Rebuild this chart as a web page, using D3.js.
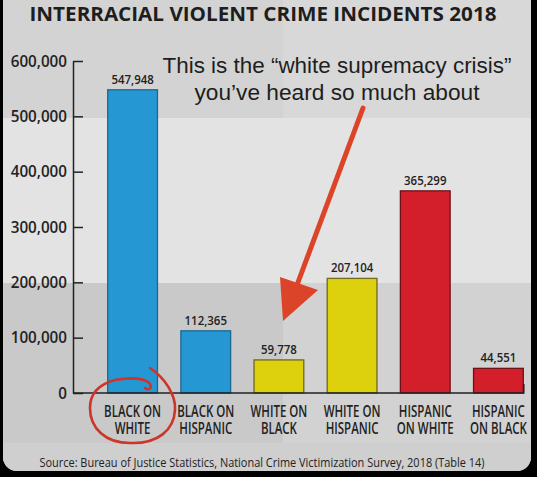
<!DOCTYPE html>
<html>
<head>
<meta charset="utf-8">
<script src="https://cdn.jsdelivr.net/npm/d3@7"></script>
<style>
  html, body { margin: 0; padding: 0; background: #000; }
  svg { display: block; }
</style>
</head>
<body>
<svg id="chart" width="537" height="477"></svg>
<script>
// ---- data ----
const categories = [
  ["BLACK ON", "WHITE"],
  ["BLACK ON", "HISPANIC"],
  ["WHITE ON", "BLACK"],
  ["WHITE ON", "HISPANIC"],
  ["HISPANIC", "ON WHITE"],
  ["HISPANIC", "ON BLACK"]
];
const values = [547948, 112365, 59778, 207104, 365299, 44551];
const valueLabels = ["547,948", "112,365", "59,778", "207,104", "365,299", "44,551"];
const barColorGroup = ["blue", "blue", "yellow", "yellow", "red", "red"];
const yTicks = [0, 100000, 200000, 300000, 400000, 500000, 600000];
const title = "INTERRACIAL VIOLENT CRIME INCIDENTS 2018";
const annotation = ["This is the \u201Cwhite supremacy crisis\u201D", "you\u2019ve heard so much about"];
const source = "Source: Bureau of Justice Statistics, National Crime Victimization Survey, 2018 (Table 14)";

// ---- styles ----
const fills = { blue: "#2598d4", yellow: "#dcd10c", red: "#d21f2b" };
const strokes = { blue: "#1b6791", yellow: "#6e6820", red: "#6e1218" };

const svg = d3.select("#chart");

// paper background with folds
const defs = svg.append("defs");
const clip = defs.append("clipPath").attr("id", "paper");
clip.append("rect").attr("x", 3).attr("y", -14).attr("width", 528).attr("height", 485).attr("rx", 14);
const paper = svg.append("g").attr("clip-path", "url(#paper)");
paper.append("rect").attr("x", 0).attr("y", 0).attr("width", 537).attr("height", 477).attr("fill", "#dedede");
paper.append("rect").attr("x", 0).attr("y", 0).attr("width", 537).attr("height", 118).attr("fill", "#d3d3d3");
paper.append("rect").attr("x", 283).attr("y", 0).attr("width", 254).attr("height", 118).attr("fill", "#d8d8d8");
paper.append("rect").attr("x", 0).attr("y", 118).attr("width", 537).attr("height", 165).attr("fill", "#e3e3e3");
paper.append("rect").attr("x", 0).attr("y", 283).attr("width", 537).attr("height", 160).attr("fill", "#c9c9c9");
paper.append("rect").attr("x", 283).attr("y", 283).attr("width", 254).attr("height", 160).attr("fill", "#d2d2d2");
paper.append("rect").attr("x", 0).attr("y", 443).attr("width", 537).attr("height", 40).attr("fill", "#cfcfcf");

// ---- scales ----
const y = d3.scaleLinear().domain([0, 600000]).range([393, 61]);
const x = d3.scaleBand().domain(d3.range(categories.length))
  .range([96, 535]).paddingInner(0.32).paddingOuter(0.16);
const axisX = 73;

const fontMain = "'Open Sans', 'DejaVu Sans', sans-serif";

// condense helper
function condense(sel, factor) {
  sel.each(function () {
    const len = this.getComputedTextLength();
    d3.select(this).attr("textLength", len * factor).attr("lengthAdjust", "spacingAndGlyphs");
  });
}

// title
svg.append("text")
  .attr("x", 263).attr("y", 21)
  .attr("text-anchor", "middle")
  .attr("font-family", fontMain).attr("font-weight", 700).attr("font-size", 20)
  .attr("fill", "#1e1e1e")
  .attr("textLength", 467).attr("lengthAdjust", "spacingAndGlyphs")
  .text(title);

// bars
const bars = svg.append("g");
bars.selectAll("rect").data(values).join("rect")
  .attr("x", (d, i) => x(i))
  .attr("width", x.bandwidth())
  .attr("y", d => y(d))
  .attr("height", d => y(0) - y(d))
  .attr("fill", (d, i) => fills[barColorGroup[i]])
  .attr("stroke", (d, i) => strokes[barColorGroup[i]])
  .attr("stroke-width", 1.3);

// value labels
const vl = svg.append("g").selectAll("text").data(values).join("text")
  .attr("x", (d, i) => x(i) + x.bandwidth() / 2)
  .attr("y", d => y(d) - 6)
  .attr("text-anchor", "middle")
  .attr("font-family", fontMain).attr("font-weight", 600).attr("font-size", 13)
  .attr("fill", "#222")
  .text((d, i) => valueLabels[i]);
condense(vl, 0.88);

// y axis
const yAxis = svg.append("g").attr("transform", `translate(${axisX},0)`)
  .call(d3.axisLeft(y).tickValues(yTicks).tickFormat(d3.format(",")).tickSizeInner(-10).tickSizeOuter(0).tickPadding(6));
yAxis.select(".domain").attr("stroke", "#222").attr("stroke-width", 1.5);
yAxis.selectAll(".tick line").attr("stroke", "#222").attr("stroke-width", 1.5);
const yt = yAxis.selectAll(".tick text")
  .attr("font-family", fontMain).attr("font-weight", 600).attr("font-size", 16).attr("fill", "#222");
condense(yt, 0.95);

// x axis baseline
const xEnd = x.range()[1] - x.step() * x.paddingOuter() + 0.5;
svg.append("path")
  .attr("d", `M${axisX},${y(0)}H${xEnd}V${y(0) - 9}`)
  .attr("fill", "none").attr("stroke", "#222").attr("stroke-width", 1.5);

// category labels (one text per line)
const catLines = [];
categories.forEach((c, i) => c.forEach((line, j) => catLines.push({ i, j, line })));
const cl = svg.append("g").selectAll("text").data(catLines).join("text")
  .attr("x", d => x(d.i) + x.bandwidth() / 2)
  .attr("y", d => 417 + d.j * 17)
  .attr("text-anchor", "middle")
  .attr("font-family", fontMain).attr("font-weight", 600).attr("font-size", 15.5)
  .attr("fill", "#222")
  .text(d => d.line);
condense(cl, 0.74);

// annotation text
svg.append("g").selectAll("text").data(annotation).join("text")
  .attr("x", 337).attr("y", (d, i) => 73 + i * 27)
  .attr("text-anchor", "middle")
  .attr("font-family", "'Liberation Sans', Arial, sans-serif").attr("font-size", 22)
  .attr("fill", "#1e1e1e")
  .attr("textLength", (d, i) => i === 0 ? 349 : 285)
  .attr("lengthAdjust", "spacingAndGlyphs")
  .text(d => d);

// arrow (points at WHITE ON BLACK bar)
const arrowColor = "#dc4429";
svg.append("line")
  .attr("x1", 363).attr("y1", 108)
  .attr("x2", 297).attr("y2", 285)
  .attr("stroke", arrowColor).attr("stroke-width", 5).attr("stroke-linecap", "round");
svg.append("path")
  .attr("d", `M280,277 L318,290 L283,321 Z`)
  .attr("fill", arrowColor);

// hand-drawn circle around first category
svg.append("path")
  .attr("d", "M150,368 C165,378 176,395 175,410 C174,430 158,444 130,443 C105,443 90,428 90,408 C90,392 100,384 115,380 C130,377 146,378 150,384 C152,388 149,391 145,388")
  .attr("fill", "none").attr("stroke", "#cc3528").attr("stroke-width", 2.6).attr("stroke-linecap", "round");

// source
svg.append("text")
  .attr("x", 262).attr("y", 467)
  .attr("text-anchor", "middle")
  .attr("font-family", fontMain).attr("font-weight", 400).attr("font-size", 13)
  .attr("fill", "#222")
  .attr("textLength", 445).attr("lengthAdjust", "spacingAndGlyphs")
  .text(source);
</script>
</body>
</html>
